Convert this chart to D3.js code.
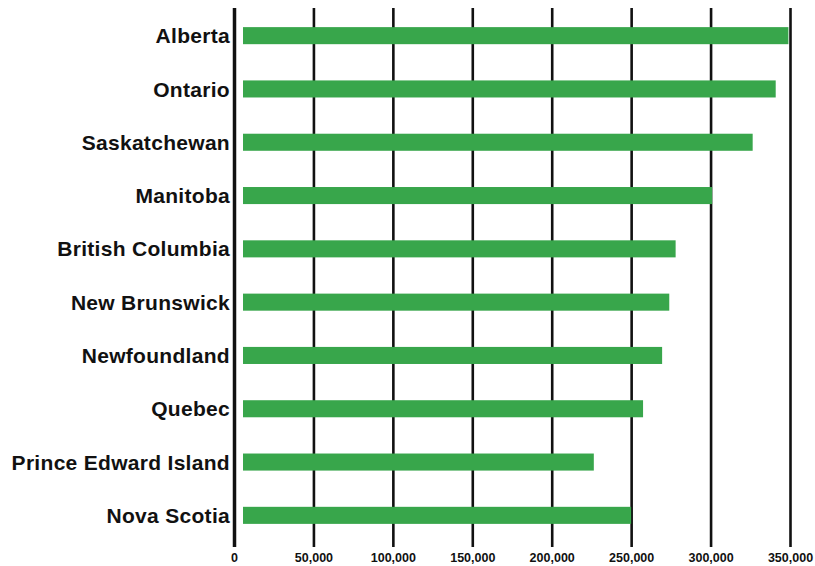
<!DOCTYPE html>
<html>
<head>
<meta charset="utf-8">
<script src="https://cdn.jsdelivr.net/npm/d3@7/dist/d3.min.js"></script>
<style>
  html, body { margin: 0; padding: 0; background: #fff; }
  svg { display: block; }
  text { font-family: "Liberation Sans", Arial, sans-serif; font-weight: bold; fill: #111; }
</style>
</head>
<body>
<svg id="chart" width="815" height="566"></svg>
<script>
const provinces = ["Alberta", "Ontario", "Saskatchewan", "Manitoba", "British Columbia",
  "New Brunswick", "Newfoundland", "Quebec", "Prince Edward Island", "Nova Scotia"];
const values = [349000, 341000, 326500, 301000, 278000, 274000, 269500, 257500, 226500, 250000];
const tickValues = [0, 50000, 100000, 150000, 200000, 250000, 300000, 350000];

(function () {
const svg = d3.select("#chart");
const plotTop = 8, plotBottom = 547;

const x = d3.scaleLinear().domain([0, 350000]).range([234, 790]);
const y = d3.scaleBand().domain(provinces).range([9, 542]).paddingInner(0.68).paddingOuter(0.34);

// Gridlines + tick labels
const xAxis = d3.axisBottom(x)
  .tickValues(tickValues)
  .tickSizeInner(-(plotBottom - plotTop))
  .tickSizeOuter(0)
  .tickPadding(6)
  .tickFormat(d3.format(","));
const gx = svg.append("g").attr("transform", `translate(0,${plotBottom})`).call(xAxis);
gx.select(".domain").remove();
gx.selectAll(".tick line")
  .attr("stroke", "#111")
  .attr("stroke-width", d => d === 0 ? 3.5 : 2.6);
gx.selectAll(".tick text")
  .style("font-size", "12.5px")
  .attr("fill", "#111");

// Bars
const barOffset = 9;
svg.append("g").selectAll("rect")
  .data(provinces)
  .join("rect")
  .attr("x", x(0) + barOffset)
  .attr("y", d => y(d))
  .attr("width", (d, i) => x(values[i]) - x(0) - barOffset)
  .attr("height", y.bandwidth())
  .attr("fill", "#38a64b");

// Category labels
const yAxis = d3.axisLeft(y).tickSize(0).tickPadding(4);
const gy = svg.append("g").attr("transform", `translate(${x(0)},0)`).call(yAxis);
gy.select(".domain").remove();
gy.selectAll(".tick text")
  .style("font-size", "21px")
  .style("letter-spacing", "0.3px")
  .attr("dy", "0.36em")
  .attr("fill", "#111");
})();
</script>
</body>
</html>
